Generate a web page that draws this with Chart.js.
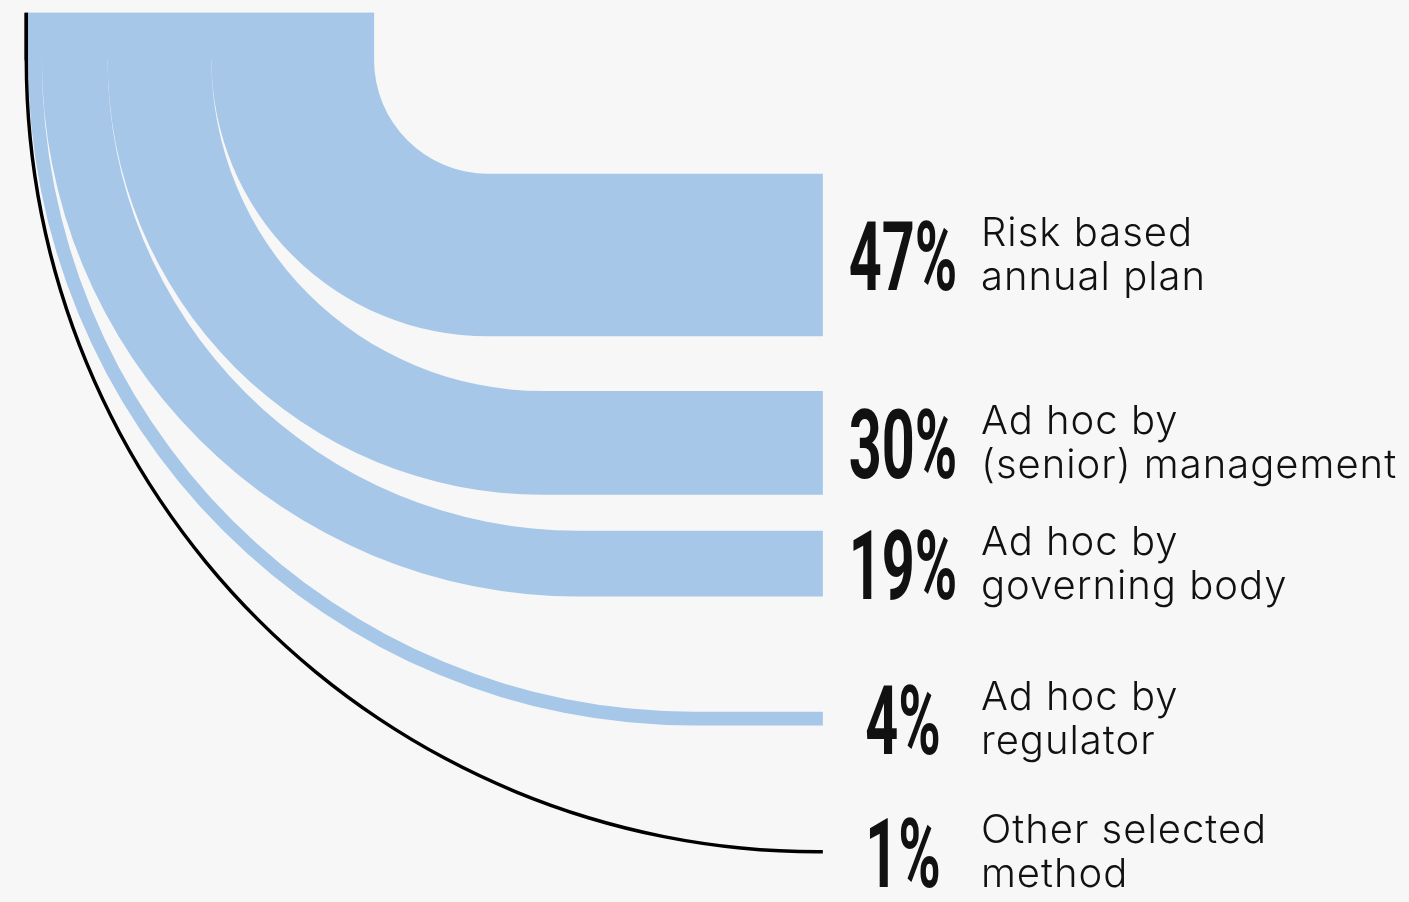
<!DOCTYPE html>
<html><head><meta charset="utf-8">
<script src="https://cdn.jsdelivr.net/npm/chart.js@4.4.1/dist/chart.umd.min.js"></script>
<style>
html,body{margin:0;padding:0;background:#f7f7f7;overflow:hidden;}
#wrap{width:1409px;height:902px;position:relative;}
</style></head><body>
<div id="wrap"><canvas id="c"></canvas></div>
<script>
// ---- DATA ----
const categories = ['Risk based annual plan', 'Ad hoc by (senior) management', 'Ad hoc by governing body', 'Ad hoc by regulator', 'Other selected method'];
const labelLines = [['Risk based', 'annual plan'], ['Ad hoc by', '(senior) management'], ['Ad hoc by', 'governing body'], ['Ad hoc by', 'regulator'], ['Other selected', 'method']];
const shares = [47, 30, 19, 4, 1];
const shareLabels = ['47%', '30%', '19%', '4%', '1%'];

// ---- LAYOUT (in share units, both axes use the same unit) ----
const rowGaps = [32.9, 15.8, 10.4, 33.3, 36.0];
const bandColors = ['#a7c7e9', '#a7c7e9', '#a7c7e9', '#a7c7e9', '#000000'];
const layout = { xMin: -7.1, xMax: 400.1, yMin: -17.3, yMax: 243.4, sourceTop: -13.6, flowEnd: 230.7, pctX: 253.9, textX: 276.4 };

function computeBands() {
  const n = shares.length;
  const bands = [];
  let cursor = 0;
  for (let i = 0; i < n; i++) {
    cursor += rowGaps[i];
    const yt = cursor, yb = cursor + shares[i];
    cursor = yb;
    let xl = 0;
    for (let j = i + 1; j < n; j++) xl += shares[j];
    bands.push({ xl, xr: xl + shares[i], yt, yb });
  }
  return bands;
}

const flowPlugin = {
  id: 'flow',
  beforeDatasetsDraw(chart) {
    const { ctx, scales: { x, y } } = chart;
    const bands = computeBands();
    const X = v => x.getPixelForValue(v), Y = v => y.getPixelForValue(v);
    ctx.save();
    bands.forEach((b, i) => {
      ctx.beginPath();
      ctx.moveTo(X(b.xl), Y(layout.sourceTop));
      ctx.lineTo(X(b.xr), Y(layout.sourceTop));
      ctx.lineTo(X(b.xr), Y(0));
      const cxIn = X(b.xr + b.yt);
      ctx.ellipse(cxIn, Y(0), cxIn - X(b.xr), Y(b.yt) - Y(0), 0, Math.PI, Math.PI / 2, true);
      ctx.lineTo(X(layout.flowEnd), Y(b.yt));
      ctx.lineTo(X(layout.flowEnd), Y(b.yb));
      const cxOut = X(b.xl + b.yb);
      ctx.lineTo(cxOut, Y(b.yb));
      ctx.ellipse(cxOut, Y(0), cxOut - X(b.xl), Y(b.yb) - Y(0), 0, Math.PI / 2, Math.PI, false);
      ctx.closePath();
      ctx.fillStyle = bandColors[i];
      ctx.fill();
    });
    // source node: one solid block per colour, drawn over the band tops to hide seams
    const groups = {};
    bands.forEach((b, i) => {
      const c = bandColors[i];
      if (!groups[c]) groups[c] = { xl: b.xl, xr: b.xr };
      groups[c].xl = Math.min(groups[c].xl, b.xl);
      groups[c].xr = Math.max(groups[c].xr, b.xr);
    });
    Object.keys(groups).forEach(c => {
      const g = groups[c];
      ctx.fillStyle = c;
      ctx.fillRect(X(g.xl), Y(layout.sourceTop), X(g.xr) - X(g.xl), Y(0) - Y(layout.sourceTop) + 0.5);
    });
    ctx.restore();
  },
  afterDatasetsDraw(chart) {
    const { ctx, scales: { x, y } } = chart;
    const bands = computeBands();
    const X = v => x.getPixelForValue(v), Y = v => y.getPixelForValue(v);
    ctx.save();
    ctx.fillStyle = '#111111';
    bands.forEach((b, i) => {
      const cy = Y((b.yt + b.yb) / 2);
      // big percentage
      ctx.save();
      ctx.translate(X(layout.pctX), cy + 35);
      ctx.scale(0.6, 1);
      ctx.font = '700 96px Roboto';
      ctx.textAlign = 'center';
      ctx.textBaseline = 'alphabetic';
      ctx.fillText(shareLabels[i], 0, 0);
      ctx.restore();
      // description
      ctx.font = '300 40px Inter';
      if ('letterSpacing' in ctx) ctx.letterSpacing = '1px';
      ctx.textAlign = 'left';
      ctx.textBaseline = 'alphabetic';
      ctx.fillText(labelLines[i][0], X(layout.textX), cy - 9);
      ctx.fillText(labelLines[i][1], X(layout.textX), cy + 35);
      if ('letterSpacing' in ctx) ctx.letterSpacing = '0px';
    });
    ctx.restore();
  }
};

new Chart(document.getElementById('c'), {
  type: 'scatter',
  data: {
    labels: categories,
    datasets: [{
      label: 'Share',
      data: computeBands().map(b => ({ x: layout.flowEnd, y: (b.yt + b.yb) / 2 })),
      pointRadius: 0
    }]
  },
  options: {
    responsive: true,
    maintainAspectRatio: false,
    animation: false,
    events: [],
    layout: { padding: 0 },
    plugins: { legend: { display: false }, tooltip: { enabled: false } },
    scales: {
      x: { type: 'linear', min: layout.xMin, max: layout.xMax, display: false },
      y: { type: 'linear', min: layout.yMin, max: layout.yMax, reverse: true, display: false }
    }
  },
  plugins: [flowPlugin]
});
</script>
</body></html>
